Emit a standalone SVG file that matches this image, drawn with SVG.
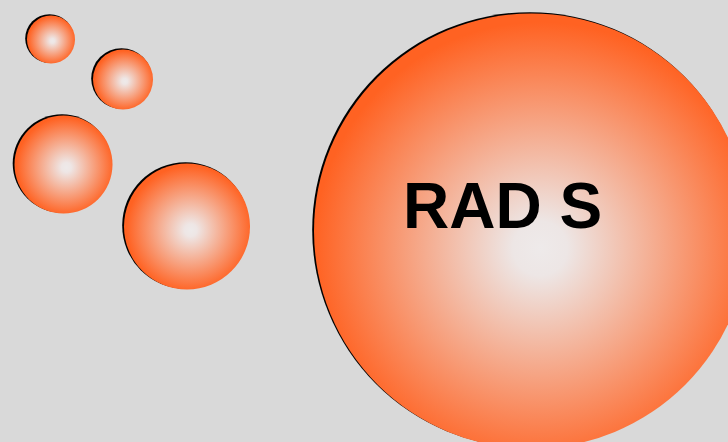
<svg xmlns="http://www.w3.org/2000/svg" width="728" height="442" viewBox="0 0 728 442">
  <style>
    .shadow { fill: #000000; }
    .ball { fill: url(#glow); }
    .bigball { fill: url(#glowBig); }
    .label { font-family: "Liberation Sans", Arial, sans-serif; font-weight: bold; font-size: 64px; fill: #000000; }
  </style>
  <defs>
    <radialGradient id="glow" cx="0.52" cy="0.52" r="0.5" fx="0.53" fy="0.53">
      <stop offset="0" stop-color="#eeeaea"/>
      <stop offset="0.1" stop-color="#eee6e5"/>
      <stop offset="1" stop-color="#ff6222"/>
    </radialGradient>
    <radialGradient id="glowBig" cx="0.52" cy="0.54" r="0.52" fx="0.52" fy="0.54">
      <stop offset="0" stop-color="#eeeaea"/>
      <stop offset="0.12" stop-color="#ede6e5"/>
      <stop offset="1" stop-color="#ff6222"/>
    </radialGradient>
  </defs>
  <rect width="728" height="442" fill="#d9d9d9"/>
  <g id="ball1">
    <circle class="shadow" cx="49.5" cy="38.5" r="24.3"/>
    <circle class="ball" cx="51" cy="39.5" r="24"/>
  </g>
  <g id="ball2">
    <circle class="shadow" cx="121.5" cy="78.5" r="30.3"/>
    <circle class="ball" cx="123" cy="79.5" r="30"/>
  </g>
  <g id="ball3">
    <circle class="shadow" cx="62" cy="163.5" r="49.3"/>
    <circle class="ball" cx="63.5" cy="164.5" r="49"/>
  </g>
  <g id="ball4">
    <circle class="shadow" cx="185.5" cy="225.5" r="63.3"/>
    <circle class="ball" cx="187" cy="226.5" r="63"/>
  </g>
  <g id="bigball">
    <circle class="shadow" cx="530" cy="230" r="217.8"/>
    <circle class="bigball" cx="531.5" cy="231" r="217.5"/>
    <text class="label" x="403" y="228">RAD S</text>
  </g>
</svg>
